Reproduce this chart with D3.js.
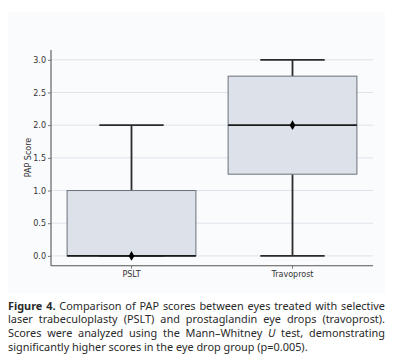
<!DOCTYPE html>
<html><head><meta charset="utf-8">
<script src="https://cdn.jsdelivr.net/npm/d3@7"></script>
<style>
html,body{margin:0;padding:0;background:#fff;}
#cap{position:absolute;left:8px;top:298.5px;width:377px;font-family:"Noto Sans",sans-serif;font-size:10.9px;line-height:13.7px;color:#2a2a2a;}
#cap .ln{text-align:justify;text-align-last:justify;white-space:nowrap;}
#cap .ln.last{text-align:left;text-align-last:left;}
#cap b{font-weight:700;}
</style></head>
<body>
<svg id="chart" width="395" height="359" style="position:absolute;left:0;top:0"></svg>
<div id="cap"></div>
<script>
const categories = ["PSLT", "Travoprost"];
const mins = [0, 0];
const q1s = [0, 1.25];
const medians = [0, 2];
const means = [0, 2];
const q3s = [1, 2.75];
const maxs = [2, 3];
const yTicks = [0, 0.5, 1.0, 1.5, 2.0, 2.5, 3.0];
const yLabel = "PAP Score";
const captionLines = [
  '<b>Figure 4.</b> Comparison of PAP scores between eyes treated with selective',
  'laser trabeculoplasty (PSLT) and prostaglandin eye drops (travoprost).',
  'Scores were analyzed using the Mann–Whitney <i>U</i> test, demonstrating',
  'significantly higher scores in the eye drop group (p=0.005).'
];

const svg = d3.select("#chart");
svg.append("rect").attr("x",8).attr("y",12).attr("width",377).attr("height",281).attr("fill","#fafbfc");

const x = d3.scaleBand().domain(categories).range([51,373]).paddingInner(0).paddingOuter(0);
const y = d3.scaleLinear().domain([-0.15,3.15]).range([265.7,50]);

svg.append("g").selectAll("line").data(yTicks).join("line")
  .attr("x1",51).attr("x2",373).attr("y1",d=>y(d)).attr("y2",d=>y(d))
  .attr("stroke","#dce4ec").attr("stroke-width",1);

const bw = x.bandwidth()*0.8;
const data = categories.map((c,i)=>({c,min:mins[i],q1:q1s[i],med:medians[i],mean:means[i],q3:q3s[i],max:maxs[i]}));
const g = svg.append("g").selectAll("g").data(data).join("g");
const cx = d=>x(d.c)+x.bandwidth()/2;
g.append("line").attr("x1",cx).attr("x2",cx).attr("y1",d=>y(d.q3)).attr("y2",d=>y(d.max)).attr("stroke","#2b2b2b").attr("stroke-width",1.8);
g.append("line").attr("x1",cx).attr("x2",cx).attr("y1",d=>y(d.q1)).attr("y2",d=>y(d.min)).attr("stroke","#2b2b2b").attr("stroke-width",1.8);
g.append("line").attr("x1",d=>cx(d)-bw/4).attr("x2",d=>cx(d)+bw/4).attr("y1",d=>y(d.max)).attr("y2",d=>y(d.max)).attr("stroke","#2b2b2b").attr("stroke-width",1.8);
g.append("line").attr("x1",d=>cx(d)-bw/4).attr("x2",d=>cx(d)+bw/4).attr("y1",d=>y(d.min)).attr("y2",d=>y(d.min)).attr("stroke","#2b2b2b").attr("stroke-width",1.8);
g.append("rect").attr("x",d=>cx(d)-bw/2).attr("width",bw).attr("y",d=>y(d.q3)).attr("height",d=>y(d.q1)-y(d.q3))
  .attr("fill","#dde2ea").attr("stroke","#6a717b").attr("stroke-width",1);
g.append("line").attr("x1",d=>cx(d)-bw/2).attr("x2",d=>cx(d)+bw/2).attr("y1",d=>y(d.med)).attr("y2",d=>y(d.med)).attr("stroke","#1a1a1a").attr("stroke-width",1.8);
g.append("path").attr("d",d3.symbol(d3.symbolDiamond,28))
  .attr("transform",d=>`translate(${cx(d)},${y(d.mean)})`).attr("fill","#000");

const yAxis = svg.append("g").attr("transform","translate(51,0)")
  .call(d3.axisLeft(y).tickValues(yTicks).tickFormat(d3.format(".1f")).tickSize(3).tickPadding(2));
const xAxis = svg.append("g").attr("transform","translate(0,265.7)")
  .call(d3.axisBottom(x).tickSize(3).tickPadding(3));
[yAxis,xAxis].forEach(a=>{
  a.select(".domain").attr("stroke","#555").attr("stroke-width",1.1);
  a.selectAll(".tick line").attr("stroke","#777");
  a.selectAll("text").attr("font-family","DejaVu Sans, sans-serif").attr("font-size","8px").attr("fill","#333");
});
yAxis.select(".domain").attr("d","M0,265.7V50");
xAxis.select(".domain").attr("d","M51,0H373");
svg.append("text").attr("transform","translate(31,157.5) rotate(-90)").attr("text-anchor","middle")
  .attr("font-family","DejaVu Sans, sans-serif").attr("font-size","8px").attr("fill","#333").text(yLabel);

d3.select("#cap").selectAll("div").data(captionLines).join("div")
  .attr("class",(d,i)=>i===captionLines.length-1?"ln last":"ln").html(d=>d);
</script>
</body></html>
